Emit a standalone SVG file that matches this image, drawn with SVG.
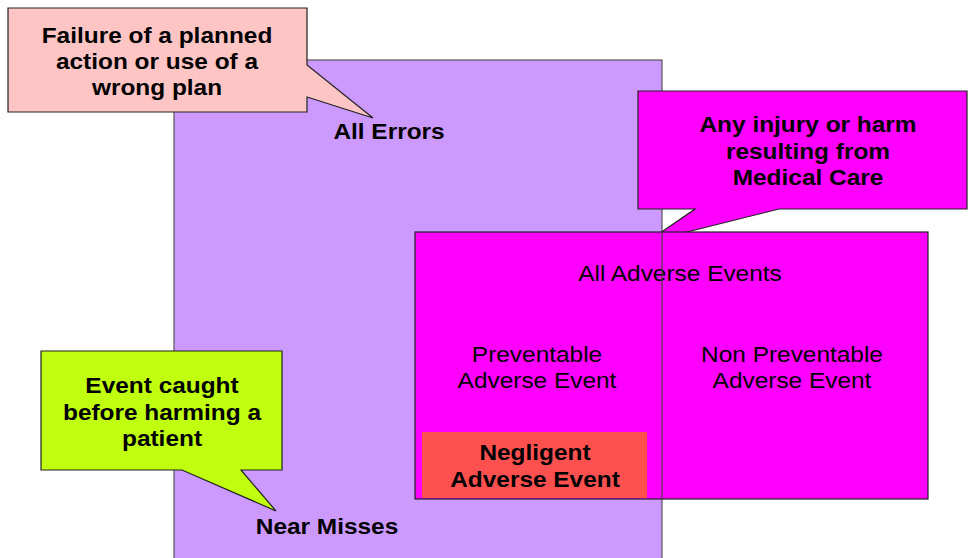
<svg xmlns="http://www.w3.org/2000/svg" width="968" height="558" viewBox="0 0 968 558">
<style>
text{font-family:"Liberation Sans",Arial,sans-serif;font-size:22px;fill:#000;text-anchor:middle}
.b{font-weight:bold}
.sh{stroke:#222;stroke-width:1.2}
</style>
<rect width="968" height="558" fill="#fff"/>
<g id="all-errors">
<rect x="174" y="60" width="488" height="510" fill="#CC99FF" stroke="#555" stroke-width="1.2"/>
<text class="b" transform="translate(389,139) scale(1.11,1)">All Errors</text>
</g>
<g id="callout-adverse">
<path d="M638,91 H967 V209 H779 L647,242 L695,209 H638 Z" fill="#FF00FF" class="sh"/>
</g>
<g id="all-adverse-events">
<rect x="415" y="232" width="513" height="267" fill="#FF00FF" class="sh"/>
<text transform="translate(680,281) scale(1.11,1)">All Adverse Events</text>
</g>
<g id="negligent">
<rect x="422" y="432" width="225" height="66" fill="#FF5050"/>
<text class="b" transform="translate(535,460) scale(1.11,1)">Negligent</text>
<text class="b" transform="translate(535,487) scale(1.11,1)">Adverse Event</text>
</g>
<g id="connectors">
<line x1="662" y1="232" x2="662" y2="499" stroke="#444" stroke-width="1.2"/>
</g>
<g id="preventable">
<text transform="translate(537,362) scale(1.11,1)">Preventable</text>
<text transform="translate(537,388) scale(1.11,1)">Adverse Event</text>
</g>
<g id="non-preventable">
<text transform="translate(792,362) scale(1.11,1)">Non Preventable</text>
<text transform="translate(792,388) scale(1.11,1)">Adverse Event</text>
</g>
<g id="callout-adverse-text">
<text class="b" transform="translate(808,132) scale(1.11,1)">Any injury or harm</text>
<text class="b" transform="translate(808,159) scale(1.11,1)">resulting from</text>
<text class="b" transform="translate(808,185) scale(1.11,1)">Medical Care</text>
</g>
<g id="callout-errors">
<path d="M8,8 H307 V65 L373,118 L307,97 V112 H8 Z" fill="#FFC4C4" class="sh"/>
<text class="b" transform="translate(157,43) scale(1.11,1)">Failure of a planned</text>
<text class="b" transform="translate(157,69) scale(1.11,1)">action or use of a</text>
<text class="b" transform="translate(157,95) scale(1.11,1)">wrong plan</text>
</g>
<g id="callout-near-misses">
<path d="M41,351 H282 V470 H241 L276,511 L182,470 H41 Z" fill="#BFFF0F" class="sh"/>
<text class="b" transform="translate(162,393) scale(1.11,1)">Event caught</text>
<text class="b" transform="translate(162,420) scale(1.11,1)">before harming a</text>
<text class="b" transform="translate(162,446) scale(1.11,1)">patient</text>
</g>
<g id="near-misses">
<text class="b" transform="translate(327,534) scale(1.11,1)">Near Misses</text>
</g>
</svg>
